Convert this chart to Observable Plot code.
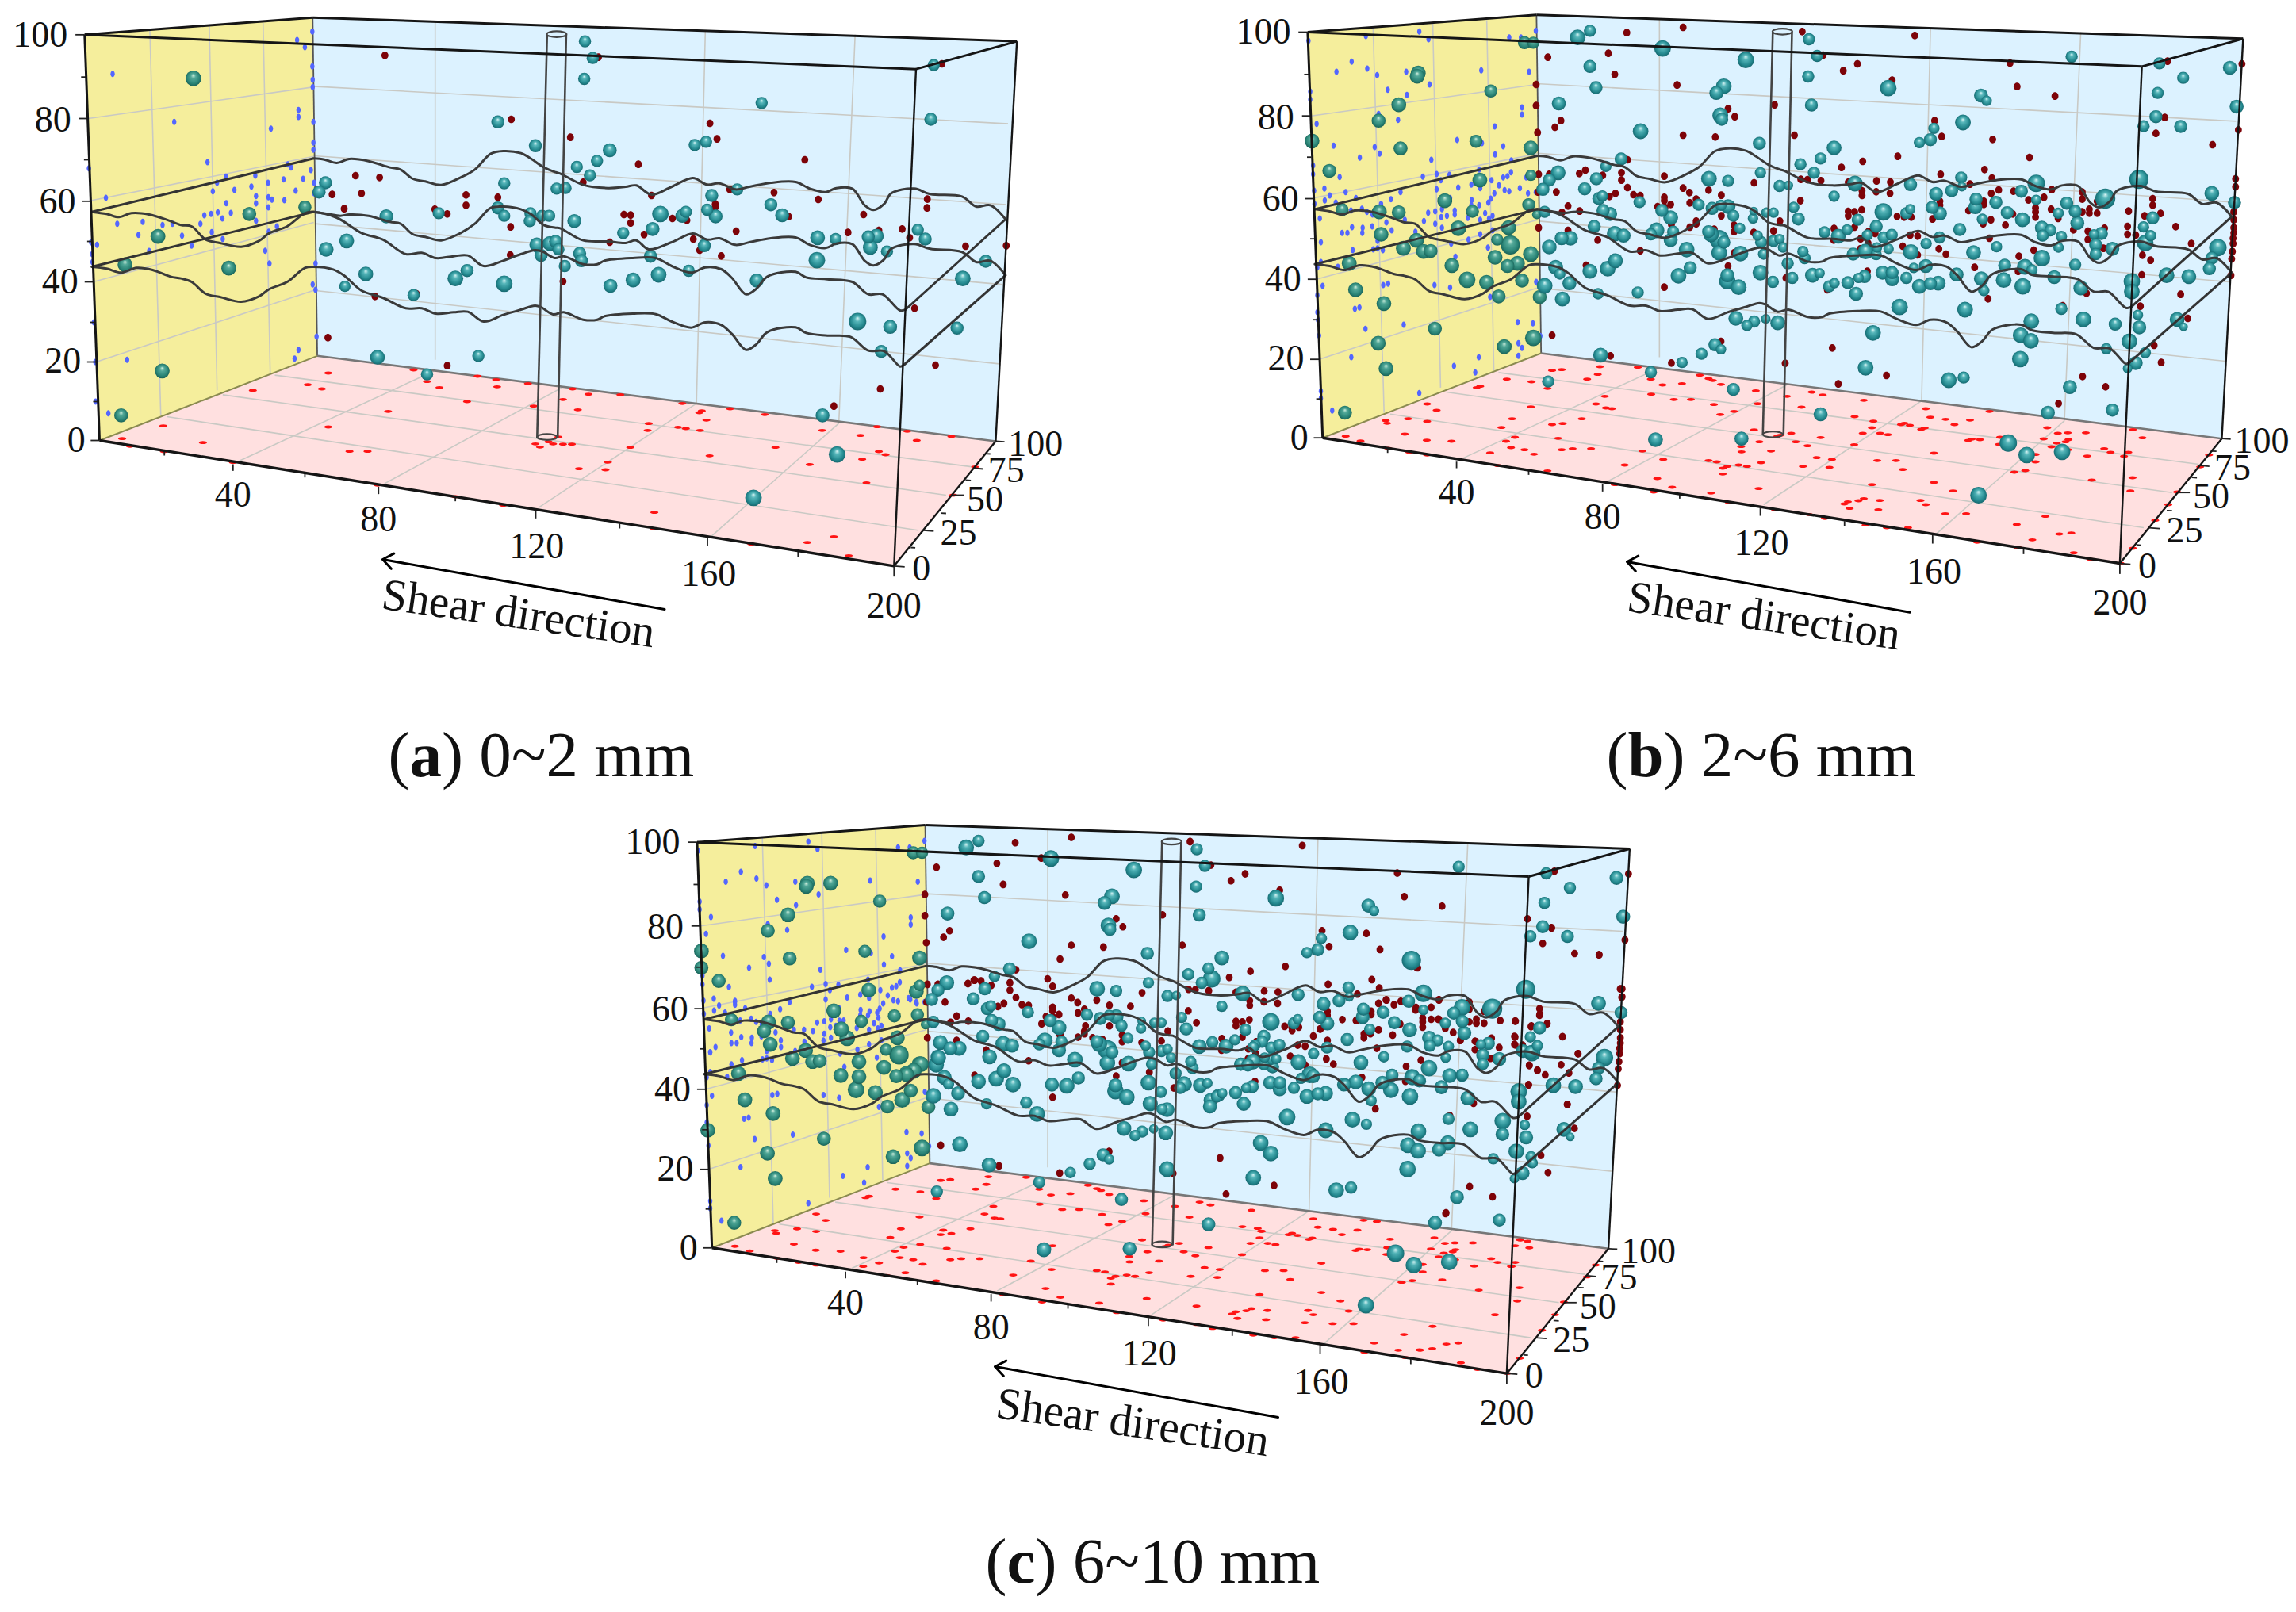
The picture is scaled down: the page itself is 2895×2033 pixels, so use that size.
<!DOCTYPE html>
<html><head><meta charset="utf-8">
<style>html,body{margin:0;padding:0;background:#fff}svg{display:block}</style>
<script src="https://cdn.jsdelivr.net/npm/d3@7"></script>
<script src="https://cdn.jsdelivr.net/npm/@observablehq/plot@0.6"></script>
</head><body><div id="c"></div>
<script>
// picture readings: [column, row, diameter]
const read=(ox,oy,rows)=>rows.map(([c,r,d])=>({x:ox+c/2.24,y:oy+r/3,d}));

// ---------- panel (a) 0~2 mm ----------
const blueA=read(0,0,[[317,278],[838,150],[860,177],[881,118],[881,250],[882,300],[882,328],[842,415],[842,441],[491,460],[764,485],[884,460],[884,538],[884,565],[585,612],[250,635],[812,620],[821,632],[877,642],[637,667],[720,663],[612,690],[756,690],[800,677],[855,675],[886,690],[709,704],[661,717],[600,722],[834,720],[886,730],[298,747],[722,740],[757,745],[767,754],[802,756],[722,768],[638,767],[757,783],[576,813],[595,808],[614,802],[651,804],[627,825],[330,845],[402,838],[458,850],[486,845],[565,845],[722,834],[781,855],[758,875],[597,877],[390,887],[513,890],[256,915],[273,925],[628,903],[540,928],[420,948],[748,947],[259,960],[260,990],[760,995],[890,995],[882,1075],[890,1095],[264,1218],[893,1272],[842,1322],[831,1355],[358,1360],[268,1368],[269,1518],[305,1562]]);
const tealA=[...read(0,0,[[545,295,36],[1405,460,30],[1511,550,30],[918,690,30],[900,725,30],[1423,692,28],[860,782,30],[703,808,32],[1405,785,30],[1090,817,32],[1238,805,28],[1423,815,28],[1497,805,28],[1495,835,28],[1530,815,28],[1550,815,28],[445,893,34],[978,910,34],[920,942,34],[1515,925,34],[1552,920,34],[1527,965,30],[352,1000,34],[645,1013,34],[1032,1035,34],[1318,1022,30],[1285,1052,36],[1423,1072,38],[973,1082,26],[1167,1115,28],[1065,1350,34],[1350,1345,28],[457,1402,34],[1205,1415,28],[341,1570,32]]),
...read(650,0,[[195,155,28],[217,218,28],[193,297,28],[694,388,28],[1172,450,30],[1180,245,28],[265,567,32],[505,547,28],[537,535,28],[229,607,28],[172,630,28],[209,662,28],[115,712,28],[140,710,28],[625,715,28],[553,738,30],[720,773,30],[408,808,38],[480,800,28],[470,815,32],[540,792,28],[564,817,32],[752,813,32],[165,835,32],[386,865,32],[303,880,28],[852,898,34],[903,903,28],[995,895,30],[1018,892,34],[1135,868,28],[1156,903,30],[1001,935,34],[1048,950,28],[112,912,30],[120,942,28],[532,928,30],[180,957,30],[185,985,30],[380,968,30],[850,983,38],[1327,987,30],[138,1005,28],[488,1023,28],[403,1038,36],[331,1058,34],[1262,1052,36],[267,1080,32],[680,1060,32],[965,1215,40],[1057,1235,32],[1246,1240,30],[1032,1328,30]]),
...read(650,400,[[866,370,32],[907,518,38],[671,682,38]])];
const darkA=[...read(0,0,[[1086,208],[1443,450],[1003,663],[1071,670],[937,734],[1020,730],[1315,736],[1405,745],[1315,775],[971,788],[1227,790],[1262,808],[1441,857],[1440,963],[1058,1120],[1175,1110],[925,1276],[1262,1382]]),
...read(650,0,[[233,215],[1203,240],[548,465],[154,518],[568,524],[346,620],[816,603],[190,688],[383,738],[604,715],[729,727],[854,753],[1162,752],[1161,785],[563,770],[563,782],[982,810],[305,810],[324,812],[324,842],[442,825],[483,832],[770,818],[622,873],[362,886],[1025,870],[1091,865],[938,878],[1112,898],[265,915],[501,903],[519,945],[580,967],[1270,930],[1385,928],[133,1063],[1126,1165],[1185,1380],[1029,1470]]),
...read(650,400,[[898,335]])];
const floorA=[...read(0,450,[[926,60],[1167,48],[1205,92],[1240,115],[868,104],[908,120],[713,126],[1403,112],[1318,168],[1095,205],[926,264],[460,260],[344,308],[572,323],[366,337],[462,357],[657,398],[986,356],[1037,356],[1065,484],[1285,528],[1420,560],[1348,72],[1400,85],[1490,100]]),
...read(650,400,[[133,310],[205,290],[50,335],[175,349],[375,401],[372,427],[458,415],[480,420],[520,427],[525,353],[518,360],[538,388],[703,367],[865,427],[973,446],[1132,465],[733,491],[323,491],[547,523],[120,452],[92,470],[105,478],[133,479],[158,479],[55,478],[68,490],[260,547],[178,572],[253,576],[830,556],[1025,507],[1044,519],[978,536],[990,625],[1297,565],[1235,672],[391,737],[391,800],[823,851],[898,829],[665,857],[940,901],[605,345],[1020,413],[1105,430],[1230,450],[470,325],[295,292],[160,270]])];

// ---------- panel (b) 2~6 mm ----------
const blueB=read(1540,0,[[245,153],[407,135],[558,118],[584,147],[812,140],[845,140],[887,115],[367,232],[324,270],[411,258],[439,283],[521,270],[733,265],[868,270],[587,318],[469,338],[523,358],[250,345],[250,375],[848,405],[848,432],[443,430],[498,452],[268,467],[771,477],[665,528],[735,540],[795,552],[316,550],[432,555],[446,580],[390,595],[772,583],[592,603],[818,605],[258,625],[258,658],[333,668],[568,667],[607,657],[643,660],[619,680],[727,640],[705,697],[762,680],[783,700],[795,670],[807,665],[817,650],[860,670],[290,712],[350,725],[305,738],[291,757],[322,765],[379,748],[261,720],[262,770],[505,725],[607,715],[668,708],[799,718],[812,722],[842,710],[887,725],[865,730],[730,710],[770,730],[760,750],[753,765],[706,755],[705,775],[727,775],[645,748],[450,770],[478,752],[396,788],[365,795],[410,800],[426,810],[277,825],[340,800],[451,800],[583,803],[603,798],[622,790],[658,795],[658,810],[620,820],[636,815],[695,823],[730,830],[744,805],[755,825],[765,815],[571,835],[465,840],[517,830],[368,858],[398,860],[425,855],[340,880],[355,880],[397,880],[480,870],[547,875],[603,845],[622,860],[697,905],[730,885],[765,870],[280,915],[440,910],[547,910],[648,920],[752,935],[370,945],[428,942],[440,938],[455,945],[660,970],[280,990],[270,1010],[328,1008],[285,1080],[456,1077],[470,1072],[601,1077],[645,1087],[888,1065],[758,1122],[270,1115],[376,1167],[389,1162],[270,1180],[272,1210],[514,1227],[406,1243],[836,1217],[879,1222],[275,1268],[838,1297],[848,1315],[366,1350],[838,1345],[726,1350],[656,1383],[716,1408],[900,1270],[558,1486],[280,1478],[280,1505],[312,1552]]);
const tealB=[...read(1540,0,[[1005,140,36],[1040,115,28],[855,160,30],[880,160,28],[1245,182,38],[1480,225,38],[555,275,34],[552,287,34],[1040,250,30],[760,343,30],[1057,330,30],[1418,325,36],[1397,350,32],[500,395,34],[952,390,32],[1408,435,36],[1412,450,30],[443,455,32],[1183,495,36],[255,532,34],[718,533,30],[505,560,32],[873,558,34],[1128,600,30],[1085,628,26],[304,645,32],[950,652,34],[925,680,30],[873,662,26],[729,680,34],[1058,675,30],[1376,675,36],[1430,683,28],[907,715,30],[1025,713,30],[630,758,34],[1075,740,26],[1065,750,30],[1180,763,28],[867,773,30],[1347,773,28],[340,792,30],[445,800,34],[500,802,32],[708,798,30],[1077,795,30],[1097,808,32],[1243,795,30],[1385,787,30],[1410,775,26],[1430,780,34],[1268,822,34],[1445,815,28],[912,800,28],[890,810,22],[1052,855,30],[668,862,36],[450,885,34],[810,860,34],[1228,870,36],[1212,885,28],[1275,875,28],[1110,883,36],[1135,890,32],[1375,875,30],[1382,885,36],[1463,862,26],[550,908,34],[778,905,28],[1405,905,44],[1418,915,30],[1268,907,32],[960,900,32],[985,900,34],[815,925,44],[925,933,34],[513,938,34],[1313,943,36],[570,950,34],[590,948,32],[1405,955,36],[1465,958,36],[873,960,36],[772,972,34],[360,995,34],[650,1003,34],[807,1005,32],[835,995,34],[943,1010,34],[1112,985,34],[1090,1015,36],[1040,1025,34],[1323,1012,30],[955,1035,26],[1290,1042,36],[1428,1040,32],[1428,1062,38],[693,1057,38],[748,1067,34],[848,1060,32],[982,1070,32],[1460,1085,36],[912,1080,36],[378,1095,34],[1063,1110,26],[1175,1105,28],[782,1120,32],[898,1122,32],[962,1130,34],[458,1147,34],[1452,1203,34],[602,1242,32],[442,1297,34],[880,1277,38],[798,1310,34],[1393,1303,30],[1410,1320,24],[1355,1337,28],[1070,1342,34],[1300,1370,26],[464,1393,34],[1212,1407,28],[922,1442,28],[1445,1472,30],[1225,1662,34],[1468,1658,32],[348,1560,32]]),
...read(2200,0,[[180,147,28],[203,210,28],[178,288,28],[922,213,28],[1170,238,28],[1369,255,32],[1237,293,28],[1165,350,28],[404,332,38],[666,360,32],[682,380,24],[187,396,30],[1388,402,32],[615,462,36],[1160,440,30],[1230,477,30],[1125,476,28],[533,484,26],[523,527,30],[492,538,26],[40,541,30],[251,558,34],[213,598,28],[156,620,28],[43,652,26],[194,652,28],[97,702,28],[122,700,22],[310,693,36],[467,697,30],[610,670,28],[612,705,22],[583,720,30],[822,692,40],[1112,677,44],[780,722,30],[539,732,32],[251,741,26],[1318,730,34],[1017,750,46],[652,752,30],[650,782,32],[708,764,30],[908,767,30],[1382,765,30],[822,755,24],[137,783,26],[390,800,40],[528,783,30],[550,806,32],[466,790,24],[455,805,28],[740,803,30],[783,830,34],[932,798,30],[884,805,26],[150,827,30],[318,830,28],[670,828,26],[24,797,20],[60,803,24],[80,803,24],[22,825,24],[938,842,32],[1151,823,30],[606,867,30],[370,855,30],[288,868,26],[224,877,28],[263,892,34],[838,860,32],[862,870,28],[840,890,28],[1125,857,26],[345,888,26],[391,897,28],[414,887,28],[893,893,26],[1006,882,30],[985,885,24],[1145,890,26],[549,897,28],[511,920,26],[35,890,24],[45,915,28],[80,910,28],[97,903,24],[107,935,24],[1130,918,38],[990,925,30],[710,932,26],[885,935,24],[1037,940,32],[163,950,26],[168,975,28],[305,960,30],[340,950,36],[372,935,24],[405,940,24],[370,962,26],[468,952,36],[645,954,34],[1335,935,40],[838,975,38],[990,960,28],[52,960,26],[120,995,28],[932,1000,28],[733,1002,30],[1318,975,30],[1311,1015,30],[790,1008,36],[810,1020,26],[1190,1040,36],[1253,1045,34],[1092,1063,38],[1092,1102,36],[510,1005,32],[476,1012,24],[597,1037,32],[43,1030,36],[133,1050,28],[190,1040,34],[210,1032,24],[667,1053,34],[730,1058,36],[873,1047,32],[948,1088,34],[784,1082,38],[674,1098,26],[290,1068,30],[252,1070,24],[237,1082,28],[320,1050,24],[337,1045,30],[388,1030,32],[415,1030,30],[415,1055,32],[455,1050,28],[492,1082,34],[523,1072,30],[545,1070,34],[78,1065,28],[313,1110,32],[436,1160,38],[621,1170,36],[893,1167,28],[955,1207,36],[1045,1225,30],[1109,1190,24],[1113,1237,32],[1220,1207,34],[1238,1235,20],[808,1214,36],[361,1258,36],[778,1267,36],[807,1288,36],[1085,1290,36],[1020,1318,26],[1130,1333,26],[1103,1372,32],[1080,1393,22],[92,1220,34],[58,1205,22],[25,1215,28],[5,1230,26],[777,1357,38],[340,1390,36],[575,1437,36],[617,1427,28],[917,1463,32]]),
...read(2200,400,[[213,366,32],[743,475,40],[795,520,38],[895,508,38],[659,672,38],[855,360,32],[1037,350,30]])];
const darkB=[...read(1540,0,[[1303,102],[1144,122],[921,215],[1092,200],[1110,280],[1286,320],[888,318],[888,398],[1430,410],[1449,440],[958,455],[941,480],[892,500],[1303,510],[1394,517],[1146,603],[1027,642],[1010,655],[1076,662],[925,658],[895,658],[1129,652],[1129,680],[1250,665],[1146,708],[1112,730],[1095,742],[1303,710],[1321,727],[1375,718],[1411,737],[1163,735],[1182,738],[1250,745],[1250,758],[1340,752],[1322,766],[1268,772],[1231,780],[978,778],[961,802],[1011,797],[1252,783],[1411,815],[1447,850],[1340,835],[1322,858],[1270,848],[1340,845],[1391,866],[1447,875],[895,860],[978,870],[1062,907],[1182,947],[1447,955],[1029,1002],[1430,1005],[1250,1085],[933,1267],[1410,1290],[1098,1345],[1270,1372],[893,725],[945,725]]),
...read(2200,0,[[161,118],[479,133],[220,207],[748,237],[317,240],[277,266],[1193,230],[1403,240],[415,302],[768,326],[875,362],[83,395],[1185,443],[535,455],[1393,490],[1160,503],[139,510],[555,515],[699,526],[1320,546],[431,590],[803,594],[332,609],[272,632],[676,640],[552,658],[697,672],[1385,675],[1385,705],[25,690],[157,677],[176,678],[214,682],[291,688],[371,683],[410,687],[635,695],[716,717],[758,722],[866,716],[952,725],[330,720],[330,738],[370,724],[409,730],[695,730],[156,758],[550,760],[550,775],[674,760],[674,772],[844,745],[800,755],[952,752],[820,785],[820,800],[820,820],[864,790],[994,760],[1151,750],[1151,775],[1083,797],[1173,806],[1128,815],[631,795],[756,808],[972,790],[972,805],[952,800],[994,805],[291,798],[291,815],[309,800],[329,792],[429,817],[449,820],[469,820],[529,827],[694,830],[672,845],[98,835],[884,825],[735,850],[1216,856],[1380,800],[1380,830],[1080,855],[927,868],[968,873],[1015,862],[309,858],[251,863],[24,878],[80,872],[1080,885],[1103,888],[1380,860],[1380,880],[1378,900],[1378,920],[1376,950],[1374,978],[968,905],[250,907],[348,875],[367,882],[326,902],[347,918],[466,888],[487,892],[690,900],[445,930],[325,940],[547,940],[567,960],[487,963],[815,945],[1012,938],[1260,920],[1122,964],[1145,983],[773,968],[648,1010],[1120,1038],[1372,1040],[771,1025],[345,1025],[115,1050],[232,1095],[1230,1112],[964,1108],[686,1129],[1116,1157],[897,1155],[1250,1203],[1155,1305],[246,1315],[1175,1370],[113,1373],[953,1423],[399,1419],[263,1451],[1018,1462],[885,1525]])];
const floorB=[...read(1540,400,[[933,200],[960,197],[1068,186],[1062,215],[1175,188],[1032,233],[805,233],[875,243],[1212,233],[1350,218],[1375,231],[1387,238],[1410,253],[1245,255],[1300,250],[730,260],[720,265],[920,268],[1082,298],[1213,290],[1277,310],[1325,310],[1057,327],[1085,342],[1102,345],[1390,329],[580,327],[607,351],[873,338],[1447,355],[1408,367],[820,383],[526,383],[463,390],[467,400],[580,393],[1017,383],[933,405],[963,401],[790,416],[517,441],[828,453],[950,457],[579,464],[649,468],[803,468],[817,492],[855,500],[882,517],[758,512],[960,500],[991,496],[1043,496],[1188,505],[1467,488],[1468,508],[1247,537],[1375,541],[1398,546],[1428,563],[1415,570],[1460,558],[1138,558],[920,580],[1415,592],[1230,609],[1272,642],[1382,664],[350,449],[392,467],[1432,700],[1220,660],[1110,632],[780,560],[580,520],[530,510],[470,495]]),
...read(2200,400,[[30,277],[118,298],[35,326],[188,282],[219,293],[335,313],[159,339],[309,375],[362,392],[358,417],[332,438],[381,438],[403,443],[213,454],[176,485],[308,481],[130,438],[143,470],[25,425],[40,470],[100,445],[90,450],[73,505],[202,530],[245,537],[45,549],[163,563],[5,563],[238,567],[373,541],[426,541],[445,575],[533,513],[523,377],[566,385],[591,405],[635,388],[690,355],[510,345],[450,400],[440,405],[465,408],[507,418],[497,423],[640,460],[630,465],[663,462],[720,453],[717,480],[853,417],[883,438],[911,436],[962,436],[843,459],[880,475],[913,462],[905,470],[865,489],[912,500],[966,524],[1014,496],[1032,510],[1070,525],[1082,510],[1095,424],[1122,455],[820,518],[820,546],[760,585],[791,579],[979,615],[1094,606],[1088,656],[358,632],[533,624],[587,656],[38,647],[290,697],[280,705],[335,685],[320,693],[380,692],[495,692],[510,708],[295,722],[376,727],[565,742],[624,742],[767,783],[848,752],[887,819],[921,815],[811,841],[928,890],[460,795],[1310,520],[1285,565],[1220,660],[1195,708],[1158,767],[1095,873],[1060,930],[975,915],[770,870],[655,850],[400,795],[340,785],[225,760],[180,745],[85,728]])];

// ---------- panel (c) 6~10 mm: what it adds to (b) ----------
const blueC=read(770,1030,[[282,378],[448,615],[350,710],[350,695],[339,815],[340,935],[295,870],[280,890],[545,805],[520,885],[480,870],[550,860],[600,845],[655,775],[645,770],[730,735],[755,760],[845,690],[862,700],[650,790],[635,795]]);
const tealC=[...read(770,1030,[[620,250,34],[255,570,32],[862,660,34],[875,935,36],[855,960,36],[835,975,34],[700,982,34],[700,925,34],[650,803,36],[432,810,32],[800,752,30],[930,853,34],[1069,907,34],[925,910,34],[918,937,36],[1135,1012,36],[1245,1012,32],[822,1070,36],[273,1185,34],[1203,1123,36],[985,1238,36],[1523,1085,34],[1556,1105,26]]),
...read(1430,1030,[[218,612,40],[782,542,44],[925,720,38],[183,868,34],[770,868,28],[1097,885,32],[1120,890,32],[300,935,30],[320,938,30],[390,945,30],[385,915,28],[495,975,38],[470,990,24],[140,1010,36],[625,1002,34],[595,1012,28],[700,1005,32],[785,985,36],[890,978,34],[925,977,30],[805,998,30],[215,1070,32],[238,1052,30],[213,1095,32],[44,1083,34],[92,1107,34],[1040,1150,38],[1040,1200,30],[655,1162,26],[540,1185,36],[885,1232,34],[860,1258,32],[385,1273,36],[92,1332,36],[1120,1285,26],[1125,1310,22],[360,850,28],[335,870,26]])];
const darkC=[...read(770,1030,[[1215,155],[1268,537],[1233,612],[1467,716],[1216,782],[1045,620],[1027,617],[1270,827],[1340,790],[1360,835]]),
...read(1430,1030,[[655,440],[800,570],[1110,385],[1243,516],[1312,521],[1178,420],[175,778],[587,766],[627,770],[505,828],[525,802],[545,845],[860,692],[795,720],[712,692],[733,710],[860,765],[838,765],[1033,770],[1075,772],[1165,782],[1120,793],[1145,745],[900,815],[920,845],[965,850],[1030,872],[1075,832],[1075,862],[1253,895],[1205,937],[1227,968],[1138,958],[1160,975],[1115,940],[42,965],[648,820],[648,835],[690,805],[445,808],[1372,650],[1376,682],[1113,1013],[1222,1087],[880,1497]])];
const floorC=[...read(770,1430,[[938,363],[873,417],[713,467],[712,500],[831,524],[1247,422]]),
...read(1430,1430,[[1018,683],[869,551],[722,397],[714,430],[1090,400],[1110,405],[1075,422],[755,560],[348,356],[360,367],[175,650],[605,669],[481,713],[677,790],[745,817],[807,817],[841,811],[647,325],[1065,500]])];

// ---------- rock-joint profile curves ----------
const upperBack=[...read(0,0,[[885,598],[915,602],[950,615],[985,600],[1040,608],[1100,632],[1130,640],[1165,675],[1200,685],[1245,698],[1300,670],[1340,640],[1385,580],[1420,570],[1470,578],[1500,600],[1535,632],[1568,650]]),...read(650,0,[[125,655],[190,698],[260,710],[310,705],[340,700],[383,735],[440,705],[500,672],[540,697],[575,692],[620,715],[660,705],[720,690],[790,687],[830,712],[875,725],[905,710],[950,712],[985,775],[1010,793],[1040,770],[1060,730],[1125,712],[1170,733],[1260,742],[1300,780],[1340,775],[1383,828]])];
const lowerBack=[...read(0,0,[[885,800],[925,808],[960,815],[985,810],[1040,815],[1100,838],[1130,845],[1165,885],[1200,895],[1245,908],[1300,880],[1340,845],[1385,785],[1420,780],[1470,790],[1500,810],[1535,850],[1568,860]]),...read(650,0,[[125,862],[190,908],[260,912],[310,918],[340,908],[375,942],[440,915],[500,882],[540,905],[575,900],[620,925],[660,915],[720,900],[790,897],[830,925],[875,937],[905,920],[950,922],[985,985],[1010,1003],[1040,980],[1060,940],[1125,922],[1170,940],[1260,952],[1300,990],[1340,985],[1383,1040]])];
const upperFront=[...read(0,0,[[258,800],[300,808],[335,820],[370,805],[420,810],[470,830],[510,850],[540,855],[580,905],[620,918],[680,932],[730,910],[760,880],[810,855],[860,805],[885,800],[950,822],[1020,880],[1080,905],[1145,960],[1190,955],[1230,975],[1280,968],[1320,965],[1365,1005],[1420,985],[1470,960],[1510,945]]),...read(650,0,[[75,950],[110,975],[135,968],[190,998],[230,998],[250,985],[330,975],[395,975],[440,1005],[495,1030],[535,1010],[580,1017],[610,1050],[650,1112],[680,1090],[710,1045],[790,1027],[820,1048],[880,1055],[950,1065],[995,1112],[1035,1112],[1085,1173],[1100,1170]])];
const lowerFront=[...read(0,0,[[258,1008],[300,1015],[340,1030],[385,1012],[430,1020],[480,1045],[510,1052],[540,1065],[580,1110],[620,1122],[680,1140],[730,1120],[760,1092],[810,1065],[860,1012],[885,1008],[940,1018],[970,1040],[1020,1098],[1080,1125],[1145,1165],[1190,1165],[1230,1185],[1280,1180],[1320,1178],[1365,1215],[1420,1190],[1470,1170],[1510,1155]]),...read(650,0,[[70,1160],[105,1188],[135,1180],[190,1208],[230,1208],[250,1195],[330,1185],[395,1187],[440,1215],[495,1238],[535,1218],[580,1228],[610,1262],[650,1322],[680,1300],[710,1255],[790,1237],[820,1258],[880,1268],[945,1273],[995,1325],[1040,1327],[1085,1385],[1095,1380]])];
const profileLinks=[[upperBack[0],upperFront[0]],[lowerBack[0],lowerFront[0]],[upperFront[upperFront.length-1],upperBack[upperBack.length-1]],[lowerFront[lowerFront.length-1],lowerBack[lowerBack.length-1]]];

// ---------- box, read on panel (a) ----------
const pt=(ox,oy,c,r)=>read(ox,oy,[[c,r]])[0];
const O=pt(0,450,280,315), OT=pt(0,0,238,130), W=pt(0,0,895,1345), WT=pt(0,0,882,65), R=pt(650,400,1355,468), RT=pt(650,0,1415,155), F=pt(650,400,1068,940), FT=pt(650,0,1130,260);
const wallYellow=[OT,WT,W,O], wallBlue=[WT,RT,R,W], floorPink=[O,W,R,F];
const boxEdges=[[OT,WT,3],[WT,RT,3],[OT,FT,3],[FT,RT,3],[OT,O,3],[F,FT,2.4],[RT,R,2.4],[O,F,3.4],[F,R,2.4]];
const softEdges=[[WT,W,1.8,"#555"],[W,R,2.6,"#777"],[O,W,2,"#8a8a50"]];
const seg=(a,b,c,d,e,f,g,h)=>[pt(a,b,c,d),pt(e,f,g,h)];
const gridLines=[
 seg(0,0,422,110,0,450,453,220),seg(0,0,590,95,0,450,612,125),seg(0,0,742,85,0,0,762,1410),
 seg(0,0,270,1368,0,0,890,1095),seg(0,0,262,1065,0,0,885,840),seg(0,0,252,758,0,0,885,590),seg(0,0,248,447,0,0,882,328),
 seg(0,0,882,325,650,0,1395,467),seg(0,0,885,588,650,0,1385,773),seg(0,0,888,845,650,0,1375,1075),seg(0,0,890,1098,650,0,1365,1375),
 seg(0,0,1228,80,0,0,1228,1360),seg(650,0,535,115,650,400,510,325),seg(650,0,958,130,650,400,912,400),
 seg(0,450,675,392,0,450,1228,50),seg(0,450,1085,478,650,400,130,265),seg(650,400,65,718,650,400,510,325),seg(650,400,550,830,650,400,912,400),
 seg(0,450,470,225,650,400,1135,805),seg(0,450,628,142,650,400,1215,672),seg(0,450,775,68,650,400,1290,565)];
const axisTicks=[
 seg(0,0,212,130,0,0,238,130),seg(0,0,228,290,0,0,242,290),seg(0,0,222,447,0,0,248,447),seg(0,0,236,603,0,0,248,603),seg(0,0,230,760,0,0,255,760),seg(0,0,245,912,0,0,258,912),seg(0,0,238,1065,0,0,262,1065),seg(0,0,252,1218,0,0,265,1218),seg(0,0,245,1368,0,0,270,1368),seg(0,450,262,168,0,450,275,168),seg(0,450,255,315,0,450,280,315),
 seg(0,450,463,357,0,450,463,372),seg(0,450,657,405,0,450,657,430),seg(0,450,860,440,0,450,860,455),seg(0,450,1068,490,0,450,1068,518),seg(0,450,1285,530,0,450,1285,545),seg(0,450,1512,580,0,450,1512,610),seg(650,400,293,780,650,400,293,798),seg(650,400,541,830,650,400,541,865),seg(650,400,797,885,650,400,797,905),seg(650,400,1068,940,650,400,1068,980),
 seg(650,400,1355,468,650,400,1380,470),seg(650,400,1325,515,650,400,1340,516),seg(650,400,1295,570,650,400,1320,573),seg(650,400,1270,615,650,400,1285,616),seg(650,400,1235,672,650,400,1265,672),seg(650,400,1200,740,650,400,1215,741),seg(650,400,1150,805,650,400,1180,808),seg(650,400,1115,870,650,400,1128,871),seg(650,400,1068,940,650,400,1098,943)];

// tick labels: text and where each sits on panel (a)
const heightLabels=[["100",190,130],["80",200,452],["60",213,762],["40",220,1065],["20",228,1365],["0",240,1665]];
const lengthLabels=[["40",657,1872],["80",1068,1965],["120",1515,2065]];
const lengthLabelsRight=[["160",545,972],["200",1068,1090]];
const depthLabels=[["0",1145,950],["25",1250,815],["50",1325,688],["75",1385,578],["100",1468,478]];
const cylinderEdges=[seg(650,0,88,130,650,400,60,455),seg(650,0,142,130,650,400,118,455)];
const cylinderRings=[pt(650,0,115,128),pt(650,400,88,452)];
const arrows=[[837.5,768,482,705],[2407.6,771.7,2051,708],[1611,1787,1254,1723]];
const shearText=[[479,767],[2049.5,770],[1253.6,1787]];
const captions=[["a",") 0~2 mm",489,953],["b",") 2~6 mm",2025,953],["c",") 6~10 mm",1242,1970]];

// ---------- panel placement relative to (a) and from (b) to (c) ----------
const panels=[
 {id:"a",cyl:0,f:p=>({...p})},
 {id:"b",cyl:1.4,f:p=>({...p,x:1667.2+(p.x-125)*1.0034,y:p.y-3.3})},
 {id:"c",cyl:3,f:p=>({...p,x:897.2+(p.x-125)*1.0004,y:p.y+1018.3})}];
const bToC=p=>({...p,x:897.2+(p.x-1667.2)*0.997,y:p.y+1021.6});
const wallX={a:399.5,b:1667.2+274.5*1.0034,c:897.2+274.5*1.0004};

const polyRows=(pts,name)=>panels.flatMap(P=>pts.map(q=>({...P.f(q),k:P.id+name})));
const segRows=(list,dxKey)=>panels.flatMap(P=>list.map(s=>{const a=P.f(s[0]),b=P.f(s[1]),dx=dxKey?P[dxKey]:0;return {x1:a.x+dx,y1:a.y,x2:b.x+dx,y2:b.y,w:s[2],c:s[3]}}));
const curves=[upperBack,lowerBack,upperFront,lowerFront];
const curveRows=panels.flatMap(P=>curves.flatMap((c,i)=>c.map(q=>({...P.f(q),k:P.id+i}))));
const ringRows=panels.flatMap(P=>cylinderRings.map(q=>{const p=P.f(q);return {...p,x:p.x+P.cyl}}));

const blue=[...blueA,...blueB,...blueB.map(bToC),...blueC];
const teal=[...tealA.map(p=>({...p,yel:p.x<wallX.a})),...tealB.map(p=>({...p,yel:p.x<wallX.b})),...tealB.map(bToC).map(p=>({...p,yel:p.x<wallX.c})),...tealC.map(p=>({...p,yel:p.x<wallX.c}))];
const dark=[...darkA,...darkB,...darkB.map(bToC),...darkC];
const floorRed=[...floorA,...floorB,...floorB.map(bToC),...floorC];

const ellipse=(ax,ay)=>({draw(ctx,size){const r=Math.sqrt(size/Math.PI),a=r*ax,b=r*ay,k=.5523;
 ctx.moveTo(a,0);ctx.bezierCurveTo(a,k*b,k*a,b,0,b);ctx.bezierCurveTo(-k*a,b,-a,k*b,-a,0);ctx.bezierCurveTo(-a,-k*b,-k*a,-b,0,-b);ctx.bezierCurveTo(k*a,-b,a,-k*b,a,0);ctx.closePath();}});

const labelRows=[
 ...heightLabels.map(([t,c,r])=>({t,x:c/2.24,y:r/3,a:"end"})),
 ...lengthLabels.map(([t,c,r])=>({t,x:c/2.24,y:r/3,a:"middle"})),
 ...lengthLabelsRight.map(([t,c,r])=>({t,x:650+c/2.24,y:400+r/3,a:"middle"})),
 ...depthLabels.map(([t,c,r])=>({t,x:650+c/2.24,y:400+r/3,a:"middle"}))];
const labels=panels.flatMap(P=>labelRows.map(P.f));
const serif="Liberation Serif";
const capSize=81;

const plot=Plot.plot({
 width:2895,height:2033,margin:0,
 x:{domain:[0,2895],range:[0,2895],axis:null},
 y:{domain:[0,2033],range:[0,2033],axis:null},
 r:{type:"linear",domain:[0,60],range:[0,16.5]},
 style:{background:"transparent"},
 marks:[
  Plot.line(polyRows(wallYellow,"y"),{x:"x",y:"y",z:"k",fill:"#f5ee9c",stroke:"none"}),
  Plot.line(polyRows(wallBlue,"b"),{x:"x",y:"y",z:"k",fill:"#dcf2ff",stroke:"none"}),
  Plot.line(polyRows(floorPink,"f"),{x:"x",y:"y",z:"k",fill:"#ffe0e0",stroke:"none"}),
  Plot.link(segRows(gridLines),{x1:"x1",y1:"y1",x2:"x2",y2:"y2",stroke:"#c9c9c4",strokeWidth:1.6}),
  Plot.link(segRows(softEdges),{x1:"x1",y1:"y1",x2:"x2",y2:"y2",stroke:"c",strokeWidth:"w"}),
  Plot.dot(floorRed,{x:"x",y:"y",r:3.2,symbol:ellipse(1.6,.6),fill:"#ff1414",stroke:"none"}),
  Plot.dot(blue,{x:"x",y:"y",r:3.2,symbol:ellipse(.85,1.25),fill:"#5366ff",stroke:"none"}),
  Plot.dot(dark,{x:"x",y:"y",r:4.6,symbol:ellipse(.95,1.05),fill:"#7d0308",stroke:"none"}),
  Plot.dot(teal.filter(d=>d.yel),{x:"x",y:"y",r:"d",fill:"url(#ballGreen)",stroke:"none"}),
  Plot.dot(teal.filter(d=>!d.yel),{x:"x",y:"y",r:"d",fill:"url(#ballTeal)",stroke:"none"}),
  Plot.link(segRows(axisTicks),{x1:"x1",y1:"y1",x2:"x2",y2:"y2",stroke:"#222",strokeWidth:1.8}),
  Plot.line(curveRows,{x:"x",y:"y",z:"k",stroke:"#3a3a3a",strokeWidth:3,curve:"catmull-rom"}),
  Plot.link(segRows(profileLinks),{x1:"x1",y1:"y1",x2:"x2",y2:"y2",stroke:"#333",strokeWidth:3}),
  Plot.link(segRows(cylinderEdges,"cyl"),{x1:"x1",y1:"y1",x2:"x2",y2:"y2",stroke:"#444",strokeWidth:2.6}),
  Plot.dot(ringRows,{x:"x",y:"y",r:12.5,symbol:ellipse(1,.3),fill:"none",stroke:"#444",strokeWidth:2.2}),
  Plot.link(segRows(boxEdges),{x1:"x1",y1:"y1",x2:"x2",y2:"y2",stroke:"#151515",strokeWidth:"w"}),
  Plot.text(labels.filter(d=>d.a==="end"),{x:"x",y:"y",text:"t",textAnchor:"end",fontFamily:serif,fontSize:46,fill:"#111"}),
  Plot.text(labels.filter(d=>d.a==="middle"),{x:"x",y:"y",text:"t",textAnchor:"middle",fontFamily:serif,fontSize:46,fill:"#111"}),
  Plot.arrow(arrows,{x1:d=>d[0],y1:d=>d[1],x2:d=>d[2],y2:d=>d[3],stroke:"#000",strokeWidth:3,headLength:8,headAngle:75}),
  Plot.text(shearText,{x:d=>d[0],y:d=>d[1],text:()=>"Shear direction",rotate:8.1,textAnchor:"start",lineAnchor:"bottom",fontFamily:serif,fontSize:57,fill:"#111"}),
  Plot.text(captions,{x:d=>d[2],y:d=>d[3],text:()=>"(",textAnchor:"start",fontFamily:serif,fontSize:capSize,fill:"#111"}),
  Plot.text(captions,{x:d=>d[2]+.333*capSize,y:d=>d[3],text:d=>d[0],textAnchor:"start",fontFamily:serif,fontWeight:"bold",fontSize:capSize,fill:"#111"}),
  Plot.text(captions,{x:d=>d[2]+(d[0]==="c"?.777:d[0]==="b"?.889:.833)*capSize,y:d=>d[3],text:d=>d[1],textAnchor:"start",fontFamily:serif,fontSize:capSize,fill:"#111"})
 ]
});
const ns="http://www.w3.org/2000/svg";
const defs=document.createElementNS(ns,"defs");
defs.innerHTML=`
<radialGradient id="ballTeal" cx=".5" cy=".5" r=".55" fx=".5" fy=".3">
 <stop offset="0" stop-color="#d5f3f3"/><stop offset=".28" stop-color="#55b5b9"/><stop offset=".7" stop-color="#24898f"/><stop offset="1" stop-color="#135f66"/></radialGradient>
<radialGradient id="ballGreen" cx=".5" cy=".5" r=".55" fx=".5" fy=".3">
 <stop offset="0" stop-color="#cfeedd"/><stop offset=".28" stop-color="#52a898"/><stop offset=".7" stop-color="#2b8577"/><stop offset="1" stop-color="#155a50"/></radialGradient>`;
plot.insertBefore(defs,plot.firstChild);
document.getElementById("c").appendChild(plot);
</script></body></html>
